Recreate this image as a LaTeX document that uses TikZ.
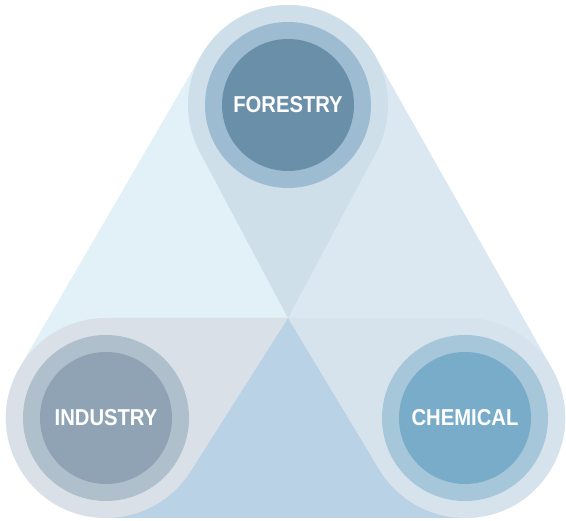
\documentclass[tikz,border=0pt]{standalone}
\usepackage{fontspec}
\newfontfamily\labelfont{Liberation Sans}[FakeStretch=0.88]
\usetikzlibrary{calc}

\definecolor{leftpale}{HTML}{E2F0F8}
\definecolor{rightpale}{HTML}{DCE8F1}
\definecolor{basinblue}{HTML}{BAD2E5}
\definecolor{forestryouter}{HTML}{CEDFEA}
\definecolor{forestryring}{HTML}{9EBCD1}
\definecolor{forestrycore}{HTML}{6A8FA8}
\definecolor{industryouter}{HTML}{D9E0E8}
\definecolor{industryring}{HTML}{B0BFCC}
\definecolor{industrycore}{HTML}{8FA3B4}
\definecolor{chemicalouter}{HTML}{D7E3EC}
\definecolor{chemicalring}{HTML}{A6C6DA}
\definecolor{chemicalcore}{HTML}{79ACC9}

\begin{document}
\begin{tikzpicture}[x=1pt, y=1pt,
    outerdisc/.style={circle, inner sep=0pt, outer sep=0pt, minimum size=200pt},
    ringdisc/.style={circle, inner sep=0pt, outer sep=0pt, minimum size=166pt},
    coredisc/.style={circle, inner sep=0pt, outer sep=0pt, minimum size=132pt, text=white, font=\labelfont\bfseries\fontsize{23}{23}\selectfont},
    hull/.style={line width=200pt, line join=round}]
        \useasboundingbox (0,0) rectangle (566,521);

        % Define nodes
        \coordinate (hub) at (288,203);
        \node (forestryout) [outerdisc] at (288,416) {};
        \node (industryout) [outerdisc] at (106,103) {};
        \node (chemicalout) [outerdisc] at (465,103) {};

        % Background triangle, split at the hub
        \begin{scope}
            \clip (0,0) rectangle (288,521);
            \filldraw[leftpale, hull] (forestryout.center) -- (industryout.center) -- (chemicalout.center) -- cycle;
        \end{scope}
        \begin{scope}
            \clip (288,0) rectangle (566,521);
            \filldraw[rightpale, hull] (forestryout.center) -- (industryout.center) -- (chemicalout.center) -- cycle;
        \end{scope}
        \begin{scope}
            \clip (hub) -- (industryout.center) -- ++(0,-150) -| (chemicalout.center) -- cycle;
            \filldraw[basinblue, hull] (forestryout.center) -- (industryout.center) -- (chemicalout.center) -- cycle;
        \end{scope}

        % Draw pins
        \fill[forestryouter] (forestryout.center) circle (100pt);
        \fill[forestryouter] (hub) -- (tangent cs:node=forestryout, point={(hub)}, solution=1) -- (forestryout.center) -- (tangent cs:node=forestryout, point={(hub)}, solution=2) -- cycle;
        \fill[industryouter] (industryout.center) circle (100pt);
        \fill[industryouter] (hub) -- (tangent cs:node=industryout, point={(hub)}, solution=1) -- (industryout.center) -- (tangent cs:node=industryout, point={(hub)}, solution=2) -- cycle;
        \fill[chemicalouter] (chemicalout.center) circle (100pt);
        \fill[chemicalouter] (hub) -- (tangent cs:node=chemicalout, point={(hub)}, solution=1) -- (chemicalout.center) -- (tangent cs:node=chemicalout, point={(hub)}, solution=2) -- cycle;

        % Rings and labels
        \node (forestryring) [ringdisc, fill=forestryring] at (forestryout) {};
        \node (forestry) [coredisc, fill=forestrycore] at (forestryout) {FORESTRY};
        \node (industryring) [ringdisc, fill=industryring] at (industryout) {};
        \node (industry) [coredisc, fill=industrycore] at (industryout) {INDUSTRY};
        \node (chemicalring) [ringdisc, fill=chemicalring] at (chemicalout) {};
        \node (chemical) [coredisc, fill=chemicalcore] at (chemicalout) {CHEMICAL};
    \end{tikzpicture}
\end{document}
